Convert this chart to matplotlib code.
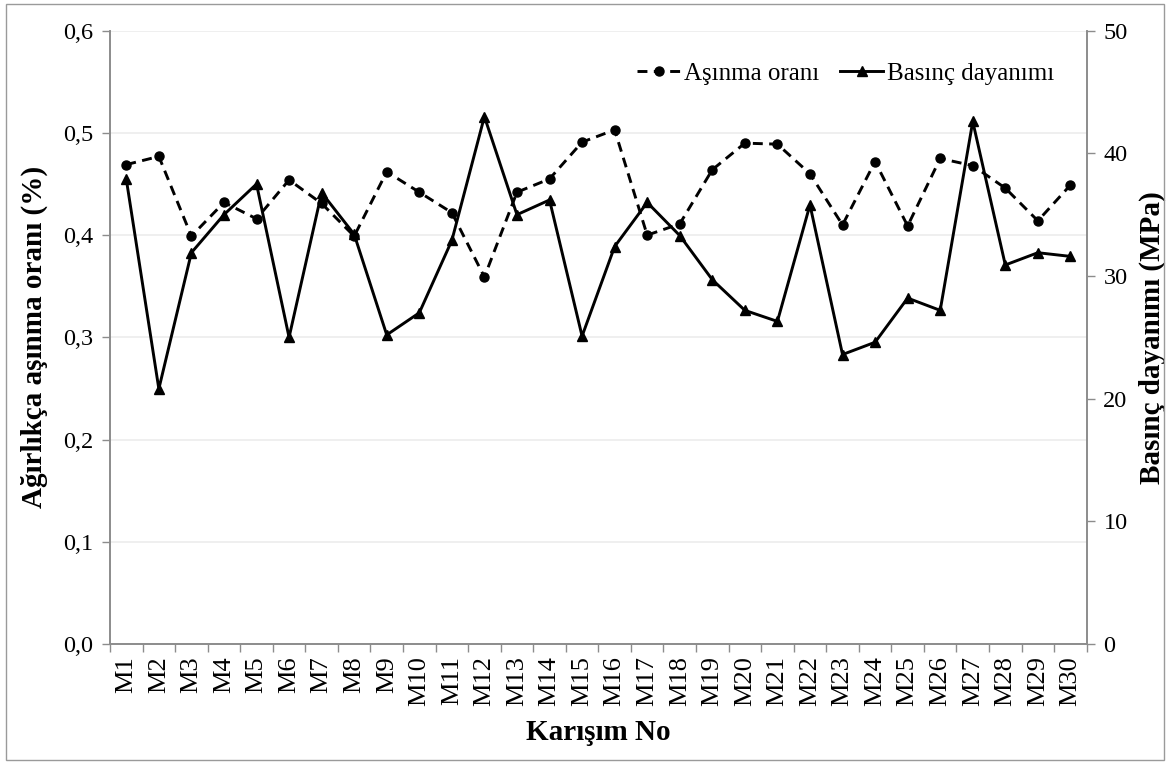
import matplotlib
matplotlib.use("Agg")
import matplotlib.pyplot as plt
from matplotlib.patches import Rectangle
from matplotlib.ticker import FixedLocator

# Mixture identifiers
mixtures = [f"M{i}" for i in range(1, 31)]

# Wear rate by weight (%)
wear_rate = [0.469, 0.477, 0.399, 0.432, 0.416, 0.454, 0.431, 0.399, 0.462, 0.442,
             0.422, 0.359, 0.442, 0.455, 0.491, 0.503, 0.400, 0.411, 0.464, 0.490,
             0.489, 0.460, 0.410, 0.472, 0.409, 0.475, 0.468, 0.446, 0.414, 0.449]

# Compressive strength (MPa)
comp_strength = [37.9, 20.8, 31.9, 35.0, 37.5, 25.0, 36.8, 33.4, 25.2, 27.0,
                 32.9, 43.0, 35.0, 36.2, 25.1, 32.4, 36.0, 33.3, 29.7, 27.2,
                 26.3, 35.8, 23.6, 24.6, 28.2, 27.2, 42.6, 30.9, 31.9, 31.6]

left_ticks = [0.0, 0.1, 0.2, 0.3, 0.4, 0.5, 0.6]
left_tick_labels = ["0,0", "0,1", "0,2", "0,3", "0,4", "0,5", "0,6"]
right_ticks = [0, 10, 20, 30, 40, 50]

plt.rcParams["font.family"] = ["Liberation Serif", "DejaVu Serif"]
axis_gray = "#8c8c8c"

fig = plt.figure(figsize=(11.69, 7.64), dpi=100)
ax = fig.add_axes([0.0941, 0.1571, 0.8355, 0.8027])
ax2 = ax.twinx()

x = list(range(len(mixtures)))

l1, = ax.plot(x, wear_rate, color="black", linestyle=(0, (3.4, 2.2)), linewidth=2.1,
              marker="o", markersize=6.5, label="Aşınma oranı", zorder=3)
l2, = ax2.plot(x, comp_strength, color="black", linestyle="-", linewidth=2.1,
               marker="^", markersize=6.5, label="Basınç dayanımı", zorder=3)

ax.set_xlim(-0.5, len(mixtures) - 0.5)
ax.set_ylim(0, 0.6)
ax2.set_ylim(0, 50)

ax.set_yticks(left_ticks)
ax.set_yticklabels(left_tick_labels)
ax2.set_yticks(right_ticks)

ax.set_xticks(x)
ax.set_xticklabels(mixtures, rotation=90)
ax.xaxis.set_minor_locator(FixedLocator([i - 0.5 for i in range(len(mixtures) + 1)]))
ax.tick_params(axis="x", which="major", length=0, pad=9, labelsize=19)
ax.tick_params(axis="x", which="minor", length=6, width=1, color=axis_gray)
ax.tick_params(axis="y", length=6, width=1, color=axis_gray, labelsize=17.5, pad=6)
ax2.tick_params(axis="y", length=6, width=1, color=axis_gray, labelsize=17.5, pad=6)

ax.grid(axis="y", color="#ececec", linewidth=1.2, zorder=0)
ax.set_axisbelow(True)

for a in (ax, ax2):
    a.spines["top"].set_visible(False)
    for s in ("left", "right", "bottom"):
        a.spines[s].set_color(axis_gray)
        a.spines[s].set_linewidth(1.2)

ax.set_ylabel("Ağırlıkça aşınma oranı (%)", fontsize=21, fontweight="bold", labelpad=11)
ax2.set_ylabel("Basınç dayanımı (MPa)", fontsize=21, fontweight="bold", labelpad=8)
ax.set_xlabel("Karışım No", fontsize=21, fontweight="bold", labelpad=9)

ax2.legend(handles=[l1, l2], loc="upper right", ncol=2, frameon=False, fontsize=18,
           handlelength=1.75, handletextpad=0.15, columnspacing=0.8,
           bbox_to_anchor=(0.99, 0.985))

# Thin frame around the whole figure
fig.patches.append(Rectangle((6 / 1169, 4 / 764), 1158 / 1169, 756 / 764,
                             transform=fig.transFigure, fill=False,
                             edgecolor="#9a9a9a", linewidth=1.0))

fig.savefig("out.png", dpi=100)
